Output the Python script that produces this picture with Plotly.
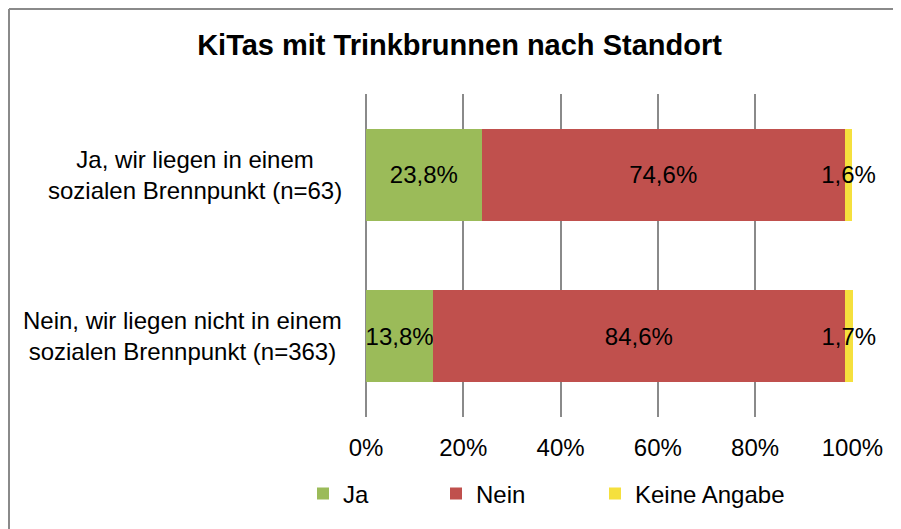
import plotly.graph_objects as go

categories = ["Ja, wir liegen in einem<br>sozialen Brennpunkt (n=63)",
              "Nein, wir liegen nicht in einem<br>sozialen Brennpunkt (n=363)"]
series_names = ["Ja", "Nein", "Keine Angabe"]
ja_values = [23.8, 13.8]
nein_values = [74.6, 84.6]
keine_values = [1.6, 1.7]
x_ticks = [0, 20, 40, 60, 80, 100]
x_tick_labels = ["0%", "20%", "40%", "60%", "80%", "100%"]
colors = ["#9BBB59", "#C0504D", "#F5E03D"]

FONT = "Liberation Sans, Arial, sans-serif"

# page body has an 8px margin; the figure is laid out in figure coords (page - 8)
W, H = 893, 521
ML, MT, PW, PH = 358, 86, 487, 323

def fmt(v):
    return f"{v:.1f}%".replace(".", ",")

legend_names = ["legend", "legend2", "legend3"]
legend_left_px = [303, 436, 595]  # page px of each legend box

fig = go.Figure()
for name, vals, col, lg in zip(series_names, [ja_values, nein_values, keine_values], colors, legend_names):
    fig.add_trace(go.Bar(
        y=categories, x=vals, name=name, orientation="h",
        marker=dict(color=col, line=dict(width=0)),
        text=[fmt(v) for v in vals], textposition="inside",
        insidetextanchor="middle", textangle=0, constraintext="none",
        textfont=dict(family=FONT, size=24, color="black"),
        cliponaxis=False, hoverinfo="skip", legend=lg,
    ))

for cat in categories:
    fig.add_annotation(x=-0.045, xref="paper", y=cat, yref="y", text=cat,
                       showarrow=False, xanchor="right", yanchor="middle", align="center",
                       font=dict(family=FONT, size=24, color="black"))

# chart border (top and left edges visible)
bx = (1 - ML) / PW
by = (MT + PH - 1) / PH
fig.add_shape(type="line", xref="paper", yref="paper", x0=bx, x1=1.3, y0=by, y1=by,
              line=dict(color="#8a8a8a", width=2))
fig.add_shape(type="line", xref="paper", yref="paper", x0=bx, x1=bx, y0=by, y1=-0.5,
              line=dict(color="#8a8a8a", width=2))

leg_common = dict(orientation="h", xanchor="left", y=(MT + PH - (494 - 8)) / PH, yanchor="middle",
                  font=dict(family=FONT, size=24, color="black"), bgcolor="rgba(0,0,0,0)")
legends = {}
for lg, lpx in zip(legend_names, legend_left_px):
    legends[lg] = dict(x=((lpx - 8) - ML) / PW, **leg_common)

fig.update_layout(
    template="none",
    width=W, height=H,
    margin=dict(l=ML, r=W - ML - PW, t=MT, b=H - MT - PH),
    barmode="stack", bargap=0.43,
    paper_bgcolor="white", plot_bgcolor="white",
    font=dict(family=FONT, size=24, color="black"),
    title=dict(text="<b>KiTas mit Trinkbrunnen nach Standort</b>", x=451.5 / W, xref="container",
               xanchor="center", y=1 - 37 / H, yref="container", yanchor="middle",
               font=dict(family=FONT, size=29, color="black")),
    xaxis=dict(range=[0, 100.12], tickvals=x_ticks, ticktext=x_tick_labels,
               showgrid=True, gridcolor="#8a8a8a", gridwidth=2,
               zeroline=True, zerolinecolor="#8a8a8a", zerolinewidth=2,
               showline=False, ticks="outside", ticklen=9, tickcolor="rgba(0,0,0,0)",
               tickfont=dict(family=FONT, size=24, color="black")),
    yaxis=dict(autorange="reversed", showticklabels=False, showgrid=False,
               zeroline=False, showline=False),
    showlegend=True,
    **legends,
)

fig.write_html("out.html")
